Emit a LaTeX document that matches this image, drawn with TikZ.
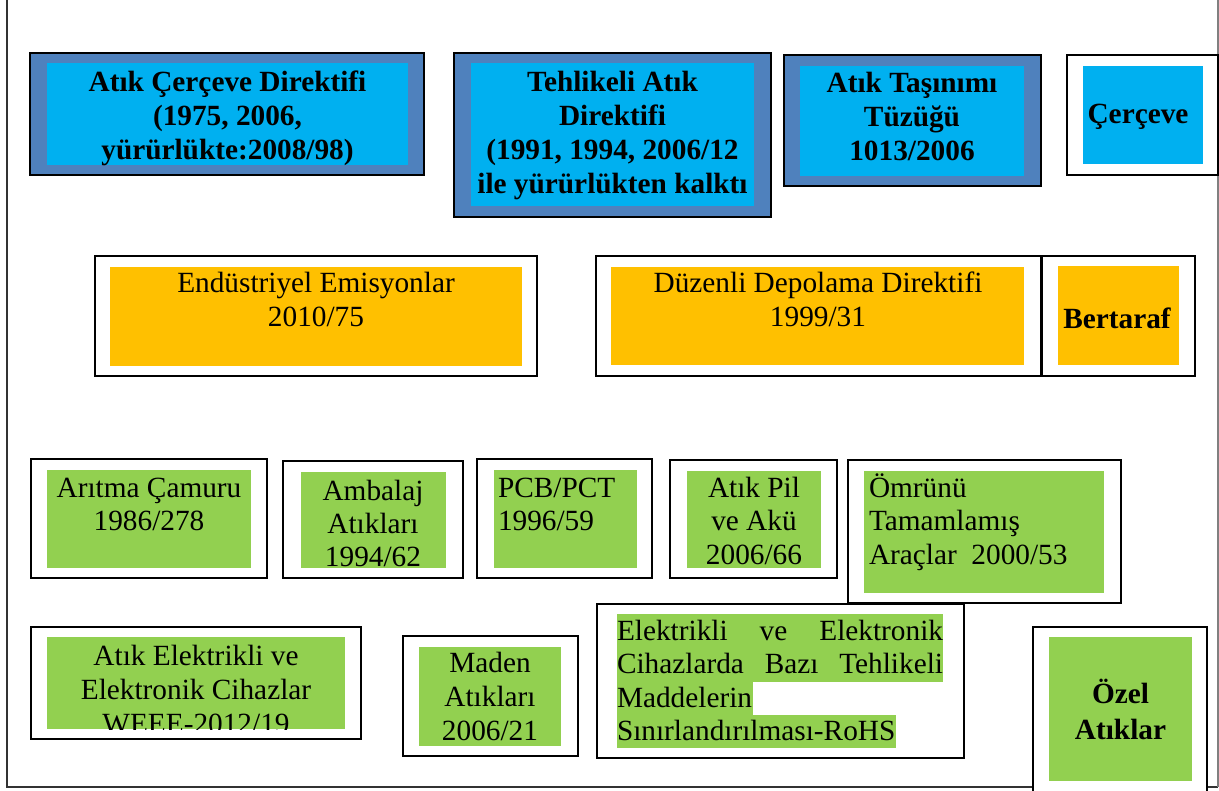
\documentclass[tikz,border=0pt]{standalone}
\usepackage{fontspec}
\setmainfont{Liberation Serif}
\definecolor{frameblue}{HTML}{4F81BD}
\definecolor{cyanfill}{HTML}{00B0F0}
\definecolor{orangefill}{HTML}{FFC000}
\definecolor{greenfill}{HTML}{92D050}
\tikzset{
  box/.style={draw=black, line width=1.6pt, rectangle, inner sep=0pt, outer sep=0pt},
  outerblue/.style={box, fill=frameblue},
  outerwhite/.style={box, fill=white},
  panel/.style={rectangle, draw=none, inner sep=0pt, outer sep=0pt},
  cyanpanel/.style={panel, fill=cyanfill},
  orangepanel/.style={panel, fill=orangefill},
  greenpanel/.style={panel, fill=greenfill},
  txt/.style={inner sep=0pt, outer sep=0pt, anchor=base, align=center, font=\fontsize{29.3}{34}\selectfont},
  btxt/.style={txt, font=\fontsize{29.3}{34}\selectfont\bfseries},
  ltxt/.style={txt, anchor=base west, align=left},
}
\newcommand\rbox[6]{\node[#2, minimum width={(#5)-(#3)}, minimum height={(#6)-(#4)}] (#1) at ({((#3)+(#5))/2},{((#4)+(#6))/2}) {};}
\begin{document}
\begin{tikzpicture}[x=1pt, y=-1pt]
\useasboundingbox (0,0) rectangle (1219,791);
% outer frame
\coordinate (ftl) at (7,0);
\coordinate (fbl) at (7,787);
\coordinate (fbr) at (1218,787);
\coordinate (ftr) at (1218,0);
\draw[line width=1.3pt, black!80] (ftl) -- (fbl) -- (fbr);
\draw[line width=1.2pt, gray] (ftr) -- (fbr);

% ---------- top row ----------
\rbox{acdo}{outerblue}{30}{53}{424}{175}
\rbox{acdi}{cyanpanel}{47}{63}{408}{165}
\node[btxt] (acdt) at (227.5,160) {Atık Çerçeve Direktifi\\(1975, 2006,\\yürürlükte:2008/98)};

\rbox{tado}{outerblue}{454}{53}{771}{217}
\rbox{tadi}{cyanpanel}{471}{63}{754}{206}
\node[btxt] (tadt) at (612.5,194) {Tehlikeli Atık\\Direktifi\\(1991, 1994, 2006/12\\ile yürürlükten kalktı};

\rbox{atto}{outerblue}{784}{55}{1041}{186}
\rbox{atti}{cyanpanel}{800}{66}{1024}{176}
\node[btxt] (attt) at (912,161) {Atık Taşınımı\\Tüzüğü\\1013/2006};

\rbox{cero}{outerwhite}{1067}{55}{1218}{175}
\rbox{ceri}{cyanpanel}{1083}{66}{1203}{164}
\node[btxt] (cert) at (1138,124) {Çerçeve};

% ---------- middle row ----------
\rbox{endo}{outerwhite}{95}{256}{537}{376}
\rbox{endi}{orangepanel}{110}{267}{522}{366}
\node[txt] (endt) at (316,327) {Endüstriyel Emisyonlar\\2010/75};

\rbox{duzo}{outerwhite}{596}{256}{1041}{376}
\rbox{duzi}{orangepanel}{611}{267}{1024}{365}
\node[txt] (duzt) at (818,327) {Düzenli Depolama Direktifi\\1999/31};

\rbox{bero}{outerwhite}{1042}{256}{1195}{376}
\rbox{beri}{orangepanel}{1058}{266}{1179}{365}
\node[btxt] (bert) at (1117,329) {Bertaraf};

% ---------- lower row 1 ----------
\rbox{arco}{outerwhite}{31}{459}{267}{578}
\rbox{arci}{greenpanel}{47}{470}{251}{568}
\node[txt] (arct) at (149,531) {Arıtma Çamuru\\1986/278};

\rbox{ambo}{outerwhite}{283}{461}{463}{578}
\rbox{ambi}{greenpanel}{301}{472}{446}{568}
\node[txt, font=\fontsize{29.3}{33}\selectfont] (ambt) at (373,566) {Ambalaj\\Atıkları\\1994/62};

\rbox{pcbo}{outerwhite}{477}{459}{652}{578}
\rbox{pcbi}{greenpanel}{494}{470}{637}{568}
\node[ltxt] (pcbt) at (498,531) {PCB/PCT\\1996/59};

\rbox{pilo}{outerwhite}{670}{460}{837}{578}
\rbox{pili}{greenpanel}{687}{471}{821}{568}
\node[txt] (pilt) at (754,565) {Atık Pil\\ve Akü\\2006/66};

\rbox{omro}{outerwhite}{848}{460}{1121}{603}
\rbox{omri}{greenpanel}{864}{471}{1104}{593}
\node[ltxt] (omrt) at (869,565) {Ömrünü\\Tamamlamış\\Araçlar\ \ 2000/53};

% ---------- lower row 2 ----------
\rbox{weeo}{outerwhite}{31}{627}{361}{739}
\rbox{weei}{greenpanel}{47}{637}{345}{729}
\begin{scope}
\clip (weei.north west) rectangle (weei.south east);
\node[txt] (weet) at (196,733) {Atık Elektrikli ve\\Elektronik Cihazlar\\WEEE-2012/19};
\end{scope}

\rbox{mado}{outerwhite}{403}{636}{578}{756}
\rbox{madi}{greenpanel}{419}{647}{561}{746}
\node[txt] (madt) at (490,740) {Maden\\Atıkları\\2006/21};

\rbox{roho}{outerwhite}{597}{604}{964}{758}
\rbox{rohia}{greenpanel}{617}{614}{943}{682}
\rbox{rohib}{greenpanel}{617}{682}{753}{715}
\rbox{rohic}{greenpanel}{617}{715}{896}{748}
\node[ltxt] (roht1) at (617,640) {\makebox[326pt][s]{Elektrikli ve Elektronik}};
\node[ltxt] (roht2) at (617,673) {\makebox[326pt][s]{Cihazlarda Bazı Tehlikeli}};
\node[ltxt] (roht3) at (617,707) {Maddelerin};
\node[ltxt] (roht4) at (617,740) {Sınırlandırılması-RoHS};

\rbox{ozlo}{outerwhite}{1033}{627}{1207}{795}
\rbox{ozli}{greenpanel}{1049}{637}{1192}{781}
\node[btxt, font=\fontsize{29.3}{36}\selectfont\bfseries] (ozlt) at (1120.5,739) {Özel\\Atıklar};
\end{tikzpicture}
\end{document}
